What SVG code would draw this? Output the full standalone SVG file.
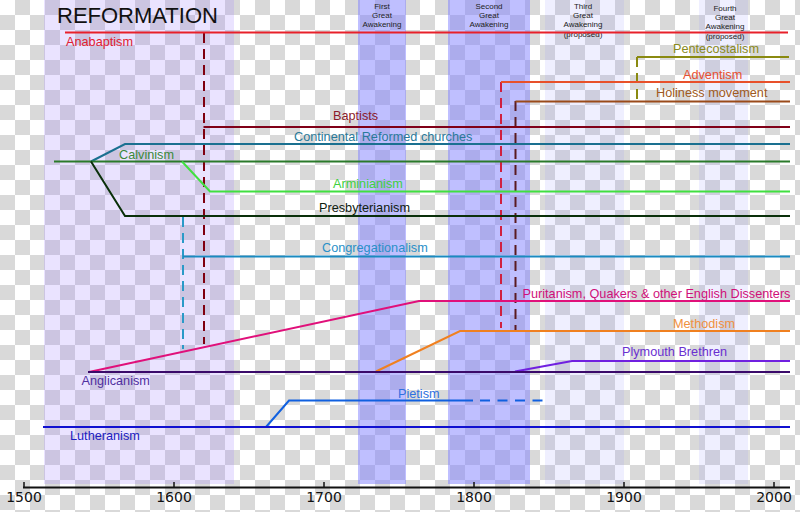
<svg xmlns="http://www.w3.org/2000/svg" width="800" height="512" viewBox="0 0 800 512">
<defs>
<pattern id="checker" patternUnits="userSpaceOnUse" width="30" height="30">
<rect width="30" height="30" fill="#ffffff"/>
<rect x="15" y="0" width="15" height="15" fill="#d9d9d9"/>
<rect x="0" y="15" width="15" height="15" fill="#d9d9d9"/>
</pattern>
</defs>
<style>
.ln{fill:none;stroke-width:2}
.dash{fill:none;stroke-width:2;stroke-dasharray:10,6}
.lbl{font-family:"Liberation Sans",Arial,sans-serif;font-size:12.7px}
.aw{font-family:"Liberation Sans",Arial,sans-serif;font-size:8px;fill:#222;text-anchor:middle}
.yr{font-family:"DejaVu Sans",sans-serif;font-size:14px;fill:#111;text-anchor:middle}
</style>
<rect width="800" height="512" fill="url(#checker)"/>
<g id="bands">
<rect x="44" y="0" width="190" height="484" fill="#9f7fff" fill-opacity="0.22"/>
<rect x="358" y="0" width="48" height="484" fill="#8080ff" fill-opacity="0.5"/>
<rect x="448" y="0" width="82" height="484" fill="#8080ff" fill-opacity="0.5"/>
<rect x="545" y="0" width="79" height="484" fill="#8080ff" fill-opacity="0.13"/>
<rect x="699" y="0" width="49" height="484" fill="#8080ff" fill-opacity="0.13"/>
</g>
<g id="titles">
<text x="57" y="23" font-family="Liberation Sans,Arial,sans-serif" font-size="22" fill="#111">REFORMATION</text>
<text class="aw" x="382" y="9">First</text>
<text class="aw" x="382" y="18">Great</text>
<text class="aw" x="382" y="27">Awakening</text>
<text class="aw" x="489" y="9">Second</text>
<text class="aw" x="489" y="18">Great</text>
<text class="aw" x="489" y="27">Awakening</text>
<text class="aw" x="583" y="9">Third</text>
<text class="aw" x="583" y="18">Great</text>
<text class="aw" x="583" y="27">Awakening</text>
<text class="aw" x="583" y="37">(proposed)</text>
<text class="aw" x="725" y="11">Fourth</text>
<text class="aw" x="725" y="20">Great</text>
<text class="aw" x="725" y="29">Awakening</text>
<text class="aw" x="725" y="39">(proposed)</text>
</g>
<g id="connectors">
<path class="dash" d="M204,33V344" stroke="#800010"/>
<path class="dash" d="M183,217V349" stroke="#2a9ac8"/>
<path class="dash" d="M501,82V328" stroke="#d02040"/>
<path class="dash" d="M515.5,101V330" stroke="#5a1a20"/>
<path class="dash" d="M637,57V101" stroke="#8a8a10"/>
<path d="M480,400.5H550" fill="none" stroke="#1060e0" stroke-width="2" stroke-dasharray="10,7.5"/>
</g>
<g id="anabaptism">
<path class="ln" d="M65,32.5H788" stroke="#e8202a"/>
<text class="lbl" x="66" y="46" fill="#e02030">Anabaptism</text>
</g>
<g id="pentecostalism">
<path class="ln" d="M637,57H789" stroke="#8a8a10"/>
<text class="lbl" x="673" y="53" fill="#8a8a20">Pentecostalism</text>
</g>
<g id="adventism">
<path class="ln" d="M501,82H790" stroke="#e8502a"/>
<text class="lbl" x="683" y="78.5" fill="#e85030">Adventism</text>
</g>
<g id="holiness">
<path class="ln" d="M515.5,101.5H790" stroke="#9a4a1a"/>
<text class="lbl" x="656" y="97" fill="#a05a20">Holiness movement</text>
</g>
<g id="baptists">
<path class="ln" d="M203.5,127H790" stroke="#800018"/>
<text class="lbl" x="333" y="120" fill="#8b1a2a">Baptists</text>
</g>
<g id="continental">
<path class="ln" d="M91,161.5L125,144H790" stroke="#1a7090"/>
<text class="lbl" x="294" y="141" fill="#2a7a9a">Continental Reformed churches</text>
</g>
<g id="calvinism">
<path class="ln" d="M54,161.5H790" stroke="#2a7a2a"/>
<text class="lbl" x="119" y="159" fill="#3a8a3a">Calvinism</text>
</g>
<g id="arminianism">
<path class="ln" d="M182,161.5L210,191.5H790" stroke="#40e040"/>
<text class="lbl" x="333" y="188" fill="#40d040">Arminianism</text>
</g>
<g id="presbyterianism">
<path class="ln" d="M91,161.5L125,216H790" stroke="#0a300a"/>
<text class="lbl" x="319" y="211.5" fill="#102010">Presbyterianism</text>
</g>
<g id="congregationalism">
<path class="ln" d="M183,256.5H790" stroke="#1a8ac0"/>
<text class="lbl" x="322" y="251.5" fill="#2a90c8">Congregationalism</text>
</g>
<g id="puritanism">
<path class="ln" d="M89,372L419,301H790" stroke="#e0107a"/>
<text class="lbl" x="522.5" y="298" fill="#d0107a">Puritanism, Quakers &amp; other English Dissenters</text>
</g>
<g id="methodism">
<path class="ln" d="M376,371.5L460,331H790" stroke="#f08020"/>
<text class="lbl" x="673" y="327.5" fill="#f09040">Methodism</text>
</g>
<g id="plymouth">
<path class="ln" d="M515,371.5L572,361H790" stroke="#7020e0"/>
<text class="lbl" x="622" y="355.5" fill="#6a30d0">Plymouth Brethren</text>
</g>
<g id="anglicanism">
<path class="ln" d="M88,372H790" stroke="#3a0a6a"/>
<text class="lbl" x="81.5" y="384.5" fill="#5030a0">Anglicanism</text>
</g>
<g id="pietism">
<path class="ln" d="M266,427L289,400.5H473" stroke="#1060e0"/>
<text class="lbl" x="398" y="397.5" fill="#3070e0">Pietism</text>
</g>
<g id="lutheranism">
<path class="ln" d="M43,427H790" stroke="#1010d0"/>
<text class="lbl" x="70" y="439.5" fill="#2020c0">Lutheranism</text>
</g>
<g id="axis">
<path d="M23,487.5H790" fill="none" stroke="#111" stroke-width="1.8"/>
<path d="M24,482V487M174,482V487M324,482V487M474,482V487M624,482V487M774,482V487" fill="none" stroke="#111" stroke-width="1.5"/>
<text class="yr" x="24" y="502">1500</text>
<text class="yr" x="174" y="502">1600</text>
<text class="yr" x="324" y="502">1700</text>
<text class="yr" x="474" y="502">1800</text>
<text class="yr" x="624" y="502">1900</text>
<text class="yr" x="774" y="502">2000</text>
</g>
</svg>
